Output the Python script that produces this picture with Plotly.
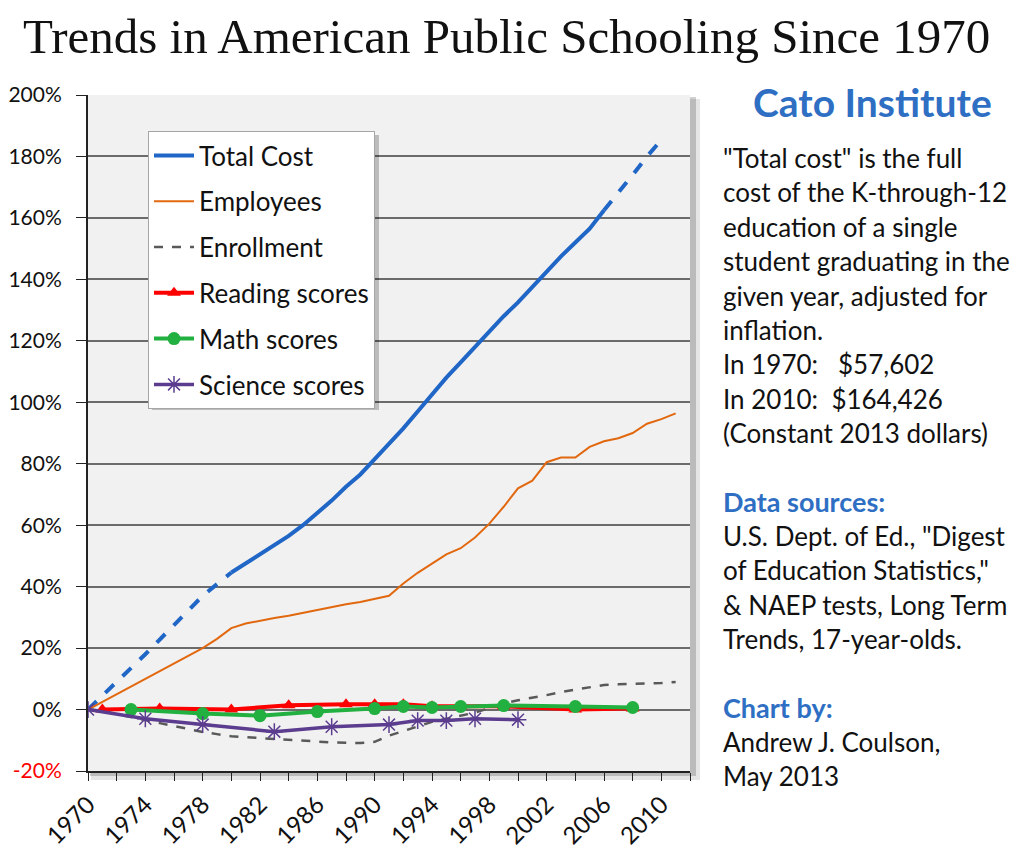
import plotly.graph_objects as go

# Total cost (percent change since 1970), split into dashed / solid / dashed parts
cost_early_years = [1970, 1972, 1974, 1976, 1978, 1980]
cost_early = [0, 9, 18, 27.5, 37, 44.6]
cost_years = [1980, 1981, 1982, 1983, 1984, 1985, 1986, 1987, 1988, 1989, 1990,
              1991, 1992, 1993, 1994, 1995, 1996, 1997, 1998, 1999, 2000,
              2001, 2002, 2003, 2004, 2005, 2006]
cost = [44.6, 47.5, 50.5, 53.5, 56.5, 60, 64, 68, 72.5, 76.5, 81.5,
        86.5, 91.5, 97, 102.5, 108, 113, 118, 123, 128, 132.5,
        137.5, 142.5, 147.5, 152, 156.5, 162.5]
cost_late_years = [2006, 2007, 2008, 2009, 2010]
cost_late = [162.5, 168, 174, 180, 185.4]

emp_years = [1970, 1971, 1972, 1973, 1974, 1975, 1976, 1977, 1978, 1979, 1980,
             1981, 1982, 1983, 1984, 1985, 1986, 1987, 1988, 1989, 1990,
             1991, 1992, 1993, 1994, 1995, 1996, 1997, 1998, 1999, 2000,
             2001, 2002, 2003, 2004, 2005, 2006, 2007, 2008, 2009, 2010, 2011]
employees = [0, 2.5, 5, 7.5, 10, 12.5, 15, 17.5, 20, 23, 26.5,
             28, 29, 29.8, 30.5, 31.5, 32.5, 33.5, 34.3, 35, 36,
             37, 41, 44.5, 47.5, 50.5, 52.5, 56, 60.5, 66, 72,
             74.5, 80.5, 82, 82, 85.5, 87.3, 88.3, 90, 93, 94.5, 96.4]

enroll_years = emp_years
enrollment = [0, -0.5, -1.5, -2.5, -3.5, -4.5, -5.5, -6.5, -7.3, -8, -8.7,
              -9, -9.3, -9.6, -10, -10.3, -10.5, -10.7, -10.8, -10.9, -10.5,
              -8.5, -7, -5.5, -4, -3, -2, -1, 0.5, 2, 3,
              3.8, 4.7, 5.7, 6.5, 7.3, 8, 8.2, 8.3, 8.4, 8.6, 9]

reading_years = [1971, 1975, 1980, 1984, 1988, 1990, 1992, 1994, 1996, 1999, 2004, 2008]
reading = [0, 0.35, 0, 1.4, 1.75, 1.75, 1.75, 1.05, 1.05, 1.05, 0, 0.35]

math_years = [1973, 1978, 1982, 1986, 1990, 1992, 1994, 1996, 1999, 2004, 2008]
math = [0, -1.3, -2.0, -0.66, 0.33, 0.99, 0.66, 0.99, 1.3, 0.99, 0.66]

science_years = [1970, 1974, 1978, 1983, 1987, 1991, 1993, 1995, 1997, 2000]
science = [0, -3.0, -4.9, -7.2, -5.6, -4.9, -3.6, -3.6, -3.0, -3.3]

year_ticks = [1970, 1974, 1978, 1982, 1986, 1990, 1994, 1998, 2002, 2006, 2010]
pct_ticks = [-20, 0, 20, 40, 60, 80, 100, 120, 140, 160, 180, 200]
pct_labels = ['<span style="color:#ff0000">-20%</span>'] + [f"{v}%" for v in pct_ticks[1:]]

info_lines = ['"Total cost" is the full', "cost of the K-through-12",
              "education of a single", "student graduating in the",
              "given year, adjusted for", "inflation.",
              "In 1970:\u00a0\u00a0\u00a0$57,602", "In 2010:\u00a0\u00a0$164,426",
              "(Constant 2013 dollars)"]
source_lines = ['U.S. Dept. of Ed., "Digest', 'of Education Statistics,"',
                "& NAEP tests, Long Term", "Trends, 17-year-olds."]
credit_lines = ["Andrew J. Coulson,", "May 2013"]

BLUE = "#1f66c6"
ORANGE = "#e2680f"
GRAY = "#595959"
RED = "#ff0000"
GREEN = "#22b040"
PURPLE = "#5b3c8f"
HEAD = "#2e6fc4"

# plot area in page pixels (page body has an 8px margin)
OFF = 8
L, R, T, B = 88, 690, 95, 771
W, H = R - L, B - T


def px(x):
    return (x - L) / W


def py(y):
    return (B - y) / H


fig = go.Figure()

fig.add_trace(go.Scatter(x=cost_early_years, y=cost_early, mode="lines", showlegend=False,
                         line=dict(color=BLUE, width=4, dash="dash")))
fig.add_trace(go.Scatter(x=cost_years, y=cost, mode="lines", name="Total Cost", legendgroup="a",
                         line=dict(color=BLUE, width=4)))
fig.add_trace(go.Scatter(x=cost_late_years, y=cost_late, mode="lines", showlegend=False,
                         line=dict(color=BLUE, width=4, dash="dash")))
fig.add_trace(go.Scatter(x=emp_years, y=employees, mode="lines", name="Employees", legendgroup="b",
                         line=dict(color=ORANGE, width=2)))
fig.add_trace(go.Scatter(x=enroll_years, y=enrollment, mode="lines", name="Enrollment", legendgroup="c",
                         line=dict(color=GRAY, width=2.5, dash="dash")))
fig.add_trace(go.Scatter(x=reading_years, y=reading, mode="lines+markers", name="Reading scores",
                         legendgroup="d", line=dict(color=RED, width=4),
                         marker=dict(symbol="triangle-up", size=12, color=RED)))
fig.add_trace(go.Scatter(x=math_years, y=math, mode="lines+markers", name="Math scores",
                         legendgroup="e", line=dict(color=GREEN, width=4),
                         marker=dict(symbol="circle", size=13, color=GREEN)))
fig.add_trace(go.Scatter(x=science_years, y=science, mode="lines+markers", name="Science scores",
                         legendgroup="f", line=dict(color=PURPLE, width=3.5),
                         marker=dict(symbol="asterisk-open", size=14,
                                     line=dict(color=PURPLE, width=1.5))))

shapes = [
    # plot area shadow + background
    dict(type="rect", xref="paper", yref="paper", x0=px(L + 3), x1=px(R + 10), y0=py(B + 9), y1=py(T + 4),
         fillcolor="rgba(0,0,0,0.10)", line_width=0, layer="below"),
    dict(type="rect", xref="paper", yref="paper", x0=px(L + 2), x1=px(R + 6), y0=py(B + 5), y1=py(T + 2),
         fillcolor="rgba(0,0,0,0.18)", line_width=0, layer="below"),
    dict(type="rect", xref="paper", yref="paper", x0=0, x1=1, y0=0, y1=1,
         fillcolor="#f1f1f1", line_width=0, layer="below"),
    # legend shadow
    dict(type="rect", xref="paper", yref="paper", x0=px(152), x1=px(379), y0=py(410), y1=py(135),
         fillcolor="rgba(0,0,0,0.22)", line_width=0, layer="above"),
]

ann = [
    dict(text="Trends in American Public Schooling Since 1970", x=px(507), y=py(36),
         xanchor="center", yanchor="middle", showarrow=False,
         font=dict(family="Liberation Serif", size=49, color="#111111")),
    dict(text="<b>Cato Institute</b>", x=px(872), y=py(102), xanchor="center", yanchor="middle",
         showarrow=False, font=dict(family="Lato", size=39, color=HEAD)),
    dict(text="<b>Data sources:</b>", x=px(721), y=py(501), xanchor="left", yanchor="middle",
         showarrow=False, font=dict(family="Lato", size=27, color=HEAD)),
    dict(text="<b>Chart by:</b>", x=px(721), y=py(707), xanchor="left", yanchor="middle",
         showarrow=False, font=dict(family="Lato", size=27, color=HEAD)),
]
for i, line in enumerate(info_lines):
    ann.append(dict(text=line, x=px(721), y=py(158 + i * 34.4), xanchor="left", yanchor="middle",
                    showarrow=False, font=dict(family="Lato", size=26, color="#111111")))
for i, line in enumerate(source_lines):
    ann.append(dict(text=line, x=px(721), y=py(536 + i * 34.4), xanchor="left", yanchor="middle",
                    showarrow=False, font=dict(family="Lato", size=26, color="#111111")))
for i, line in enumerate(credit_lines):
    ann.append(dict(text=line, x=px(721), y=py(742 + i * 33.5), xanchor="left", yanchor="middle",
                    showarrow=False, font=dict(family="Lato", size=26, color="#111111")))
for a in ann:
    a.update(xref="paper", yref="paper")

fig.update_layout(
    width=1024, height=854,
    margin=dict(l=L - OFF, r=1024 - (R - OFF), t=T - OFF, b=854 - (B - OFF)),
    paper_bgcolor="white",
    plot_bgcolor="rgba(0,0,0,0)",
    font=dict(family="Lato", color="#111111"),
    shapes=shapes,
    annotations=ann,
    legend=dict(x=px(148), y=py(131), xanchor="left", yanchor="top",
                bgcolor="white", bordercolor="#a6a6a6", borderwidth=1,
                font=dict(family="Lato", size=26, color="#111111"),
                tracegroupgap=9, itemwidth=40),
    xaxis=dict(range=[1970, 2012], tickvals=year_ticks, tickangle=-45,
               showgrid=False, zeroline=False, automargin=False,
               showline=True, linecolor="#222222", linewidth=2,
               ticks="outside", ticklen=8, tickcolor="#222222",
               minor=dict(dtick=2, tick0=1970, ticks="outside", ticklen=8, tickcolor="#222222"),
               tickfont=dict(family="Lato", size=24, color="#111111")),
    yaxis=dict(range=[-20, 200], tickvals=pct_ticks, ticktext=pct_labels,
               showgrid=True, gridcolor="#6b6b6b", gridwidth=1.5, zeroline=False, automargin=False,
               showline=True, linecolor="#222222", linewidth=2,
               ticks="outside", ticklen=10, tickcolor="#222222", ticklabelstandoff=10,
               tickfont=dict(family="Lato", size=21, color="#111111")),
)

fig.write_html("out.html")
